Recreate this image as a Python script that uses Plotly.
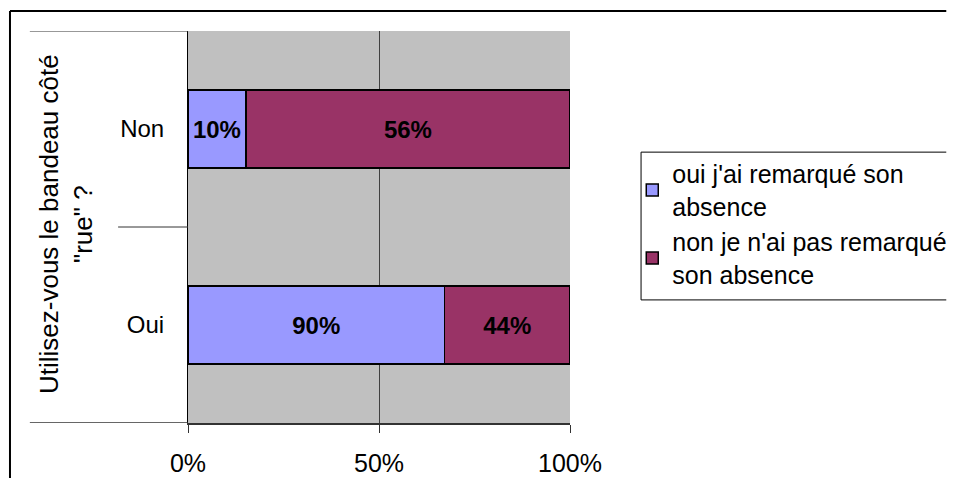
import plotly.graph_objects as go

categories = ["Oui", "Non"]
series_names = ["oui j'ai remarqué son<br>absence", "non je n'ai pas remarqué<br>son absence"]
remarque_oui = [90, 10]
remarque_non = [44, 56]
x_ticks = [0, 50, 100]
x_tick_labels = ["0%", "50%", "100%"]
axis_title = "Utilisez-vous le bandeau côté<br>\"rue\" ?"

FONT = "Liberation Sans, Arial, sans-serif"
colors = ["#9999FF", "#993366"]

fig = go.Figure()
for i, (name, vals, col) in enumerate(zip(series_names, [remarque_oui, remarque_non], colors)):
    fig.add_trace(go.Bar(
        y=categories, x=vals, orientation="h", name=name, legendgroup=f"g{i}",
        marker=dict(color=col, line=dict(color="black", width=1.5)),
        text=[f"{v}%" for v in vals], texttemplate="<b>%{text}</b>",
        textposition="inside", insidetextanchor="middle",
        textfont=dict(family=FONT, size=24, color="black"),
        hoverinfo="skip",
    ))


def hline(x0, x1, y, w=1, color="black", yref="paper"):
    return dict(type="line", xref="paper", yref=yref, x0=x0, x1=x1, y0=y, y1=y,
                line=dict(color=color, width=w))


def vline(x, y0, y1, w=1, color="black"):
    return dict(type="line", xref="paper", yref="paper", x0=x, x1=x, y0=y0, y1=y1,
                line=dict(color=color, width=w))


RIGHT = 1.985  # right edge of the visible figure, in paper units

shapes = [
    # outer chart border (left & top visible; rest is outside the view)
    vline(-0.466, -0.3, 1.051, w=2),
    hline(-0.466, RIGHT, 1.051, w=2),
    # legend box (right side outside the view)
    dict(type="rect", xref="paper", yref="paper", x0=1.186, x1=RIGHT, y0=0.314, y1=0.691,
         line=dict(width=0), fillcolor="white", layer="below"),
    vline(1.186, 0.314, 0.691),
    hline(1.186, RIGHT, 0.691),
    hline(1.186, RIGHT, 0.314),
    # multi-level category separators
    hline(-0.414, 0, 1.5, color="#333333", yref="y"),
    hline(-0.183, 0, 0.5, color="#333333", yref="y"),
    hline(-0.414, 0, -0.5, w=1.5, color="#333333", yref="y"),
]

fig.update_layout(
    width=940, height=470,
    margin=dict(l=180, r=378, t=23, b=55, autoexpand=False),
    barmode="stack", barnorm="percent", bargap=0.6,
    paper_bgcolor="white", plot_bgcolor="#C0C0C0",
    font=dict(family=FONT, size=24, color="black"),
    xaxis=dict(range=[0, 100], tickvals=x_ticks, ticktext=x_tick_labels,
               tickfont=dict(size=25),
               showgrid=True, gridcolor="#404040", gridwidth=1,
               showline=True, linecolor="#333333", linewidth=1.5,
               ticks="outside", ticklen=8, tickcolor="#333333",
               ticklabelstandoff=9, zeroline=False, fixedrange=True),
    yaxis=dict(range=[-0.5, 1.5], showline=True, linecolor="black", linewidth=1,
               ticks="", ticklabelstandoff=18, showgrid=False, fixedrange=True),
    showlegend=True,
    legend=dict(x=1.163, xanchor="left", y=0.694, yanchor="top", traceorder="normal",
                bgcolor="rgba(0,0,0,0)", borderwidth=0,
                font=dict(family=FONT, size=25, color="black"), tracegroupgap=19),
    shapes=shapes,
    annotations=[dict(text=axis_title, xref="paper", yref="paper", x=-0.319, y=0.508,
                      textangle=-90, showarrow=False, font=dict(family=FONT, size=26),
                      xanchor="center", yanchor="middle")],
)

fig.write_html("out.html")
